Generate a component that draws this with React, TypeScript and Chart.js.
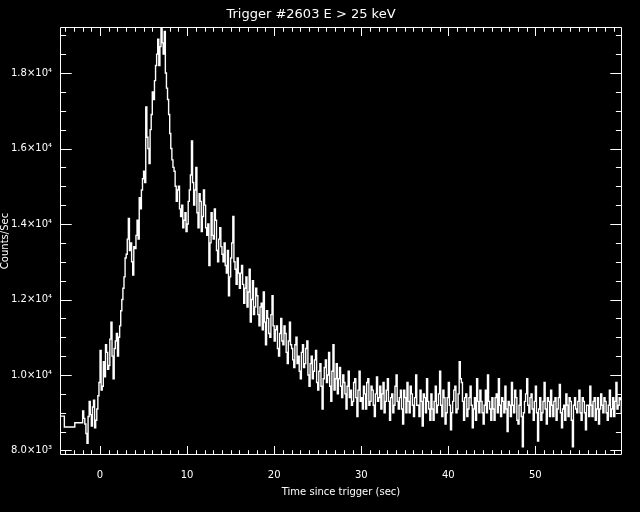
import React, { useEffect, useRef } from "react";
import { Chart, registerables } from "chart.js";

Chart.register(...registerables);

// ---- data ----
const TITLE = "Trigger #2603 E > 25 keV";
const X_LABEL = "Time since trigger (sec)";
const Y_LABEL = "Counts/Sec";

// pre-trigger (coarse) bins: start times and rates
const preTrigTimes = [-4.6, -4.1, -2.9];
const preTrigRates = [8910, 8620, 8735];

// fine bins, starting at T0 with width BIN (sec); one row = 2 s
const T0 = -2.0;
const BIN = 0.125;
const countsPerSec = [
  9050, 8850, 8700, 8450, 8190, 8900, 9300, 8950, 8650, 9150, 9330, 8600, 8800, 9100, 9450, 9800, // -2
  10650, 9600, 9700, 10350, 9950, 10800, 10600, 10150, 10250, 10950, 11400, 10500, 9900, 10700, 10900, 11100, // 0
  10500, 11000, 11300, 11700, 12000, 12300, 12600, 13100, 13200, 13600, 14150, 13300, 13500, 13000, 12650, 13400, // 2
  13350, 13700, 14100, 13600, 14700, 14400, 14900, 15200, 15400, 15100, 17100, 16300, 16000, 15600, 16500, 16900, // 4
  17500, 17300, 17800, 18200, 18500, 18900, 18200, 18700, 19300, 18800, 18500, 19100, 18000, 17600, 17300, 16900, // 6
  16400, 16000, 15700, 15500, 15400, 15000, 14600, 14900, 15000, 14400, 14200, 14500, 13900, 14100, 14300, 13800, // 8
  14000, 14600, 14900, 15300, 16200, 15100, 14500, 14900, 15500, 14300, 13900, 14800, 14600, 13800, 14200, 14900, // 10
  14500, 13900, 13700, 14000, 12900, 13500, 14300, 13700, 13600, 14400, 14100, 13300, 13000, 13600, 13900, 13400, // 12
  13200, 13000, 13500, 12900, 12700, 13300, 12100, 12600, 13100, 13500, 14200, 13000, 12800, 12400, 13100, 12700, // 14
  12300, 12700, 12900, 12400, 11900, 12300, 12600, 11800, 12200, 12800, 11400, 12000, 12500, 11600, 11800, 12300, // 16
  12100, 11600, 11300, 11800, 11900, 11200, 12200, 11400, 10800, 11700, 11500, 11100, 11000, 11600, 12100, 11300, // 18
  10900, 11200, 11300, 10700, 10500, 11100, 11500, 10900, 10800, 11300, 11100, 10600, 10300, 10900, 11400, 10800, // 20
  10700, 10400, 10200, 10800, 11000, 10300, 10500, 10100, 9900, 10600, 10800, 10200, 10300, 10700, 10900, 10000, // 22
  9700, 10300, 10500, 9900, 10100, 10400, 10650, 9800, 9600, 10100, 10300, 9700, 9100, 9900, 10200, 10400, // 24
  9800, 10000, 10600, 9700, 9300, 10100, 10800, 9600, 9900, 10300, 9500, 9900, 10200, 9700, 9400, 10000, // 26
  9800, 9500, 9100, 9700, 10100, 9400, 9600, 9200, 9300, 9800, 9900, 9400, 8900, 9600, 10100, 9300, // 28
  9400, 9100, 9700, 9500, 9100, 9800, 9900, 9200, 9300, 9700, 9600, 9200, 8900, 9500, 9950, 9300, // 30
  9400, 9700, 9100, 9500, 9800, 9000, 9300, 9600, 9900, 9300, 8800, 9400, 9500, 9000, 9200, 9700, // 32
  10000, 9300, 9100, 9400, 9600, 9100, 8700, 9600, 9400, 9000, 9800, 9300, 9000, 9700, 9500, 9200, // 34
  8900, 9400, 10000, 9200, 9200, 8900, 9600, 9300, 8650, 9500, 9400, 9000, 9900, 9300, 9100, 8800, // 36
  9500, 9100, 8800, 9300, 9700, 9000, 9200, 9500, 10100, 9200, 8900, 9600, 9400, 8700, 9000, 9400, // 38
  9800, 9200, 8550, 9000, 9300, 9600, 9700, 9000, 9100, 9500, 10350, 9900, 9800, 9300, 8800, 9400, // 40
  9500, 8900, 9100, 9400, 9700, 9200, 8600, 9100, 9400, 8800, 9900, 9300, 9000, 9600, 9300, 9000, // 42
  8700, 9200, 9600, 9000, 10000, 9300, 9100, 8800, 9400, 9100, 8800, 9400, 9500, 9000, 9900, 9200, // 44
  8900, 9400, 9300, 9000, 9700, 9100, 8500, 9300, 9200, 8900, 9800, 9200, 9000, 9600, 9400, 8800, // 46
  8700, 9200, 9600, 8900, 8100, 9000, 9300, 9500, 9900, 9200, 9000, 9400, 9500, 9100, 8800, 9300, // 48
  9700, 9000, 8250, 9100, 9400, 8800, 9000, 9300, 9800, 9100, 8700, 9400, 9300, 8900, 9600, 9200, // 50
  8900, 9300, 9400, 8800, 9100, 9400, 9750, 9000, 8600, 9100, 9200, 8800, 9500, 9200, 8900, 9400, // 52
  9300, 8800, 8100, 9200, 9400, 9100, 9000, 9300, 9600, 9000, 8800, 9400, 9300, 9000, 8550, 9200, // 54
  9200, 8900, 9700, 9200, 8900, 9300, 9400, 8800, 9100, 9400, 8700, 9100, 9500, 9200, 9000, 9400, // 56
  9300, 9000, 8800, 9200, 9600, 8900, 9100, 9400, 8900, 9300, 9800, 9100, 9200, 9400, 9350, 9000, // 58
];

// axes
const X_MIN = -4.6;
const X_MAX = 59.95;
const X_MAJOR = 10;
const X_MINOR = 1;
const Y_MIN = 7880;
const Y_MAX = 19220;
const Y_MAJOR = 2000;
const Y_MINOR = 500;
const yTickValues = [8000, 10000, 12000, 14000, 16000, 18000];
const yTickLabels = ["8.0×10³", "1.0×10⁴", "1.2×10⁴", "1.4×10⁴", "1.6×10⁴", "1.8×10⁴"];

const FONT = "'DejaVu Sans', sans-serif";

const idlFrame = {
  id: "idlFrame",
  afterDatasetsDraw(chart: any) {
    const { ctx, chartArea, scales } = chart;
    const xs = scales.x;
    const ys = scales.y;
    const L = Math.round(chartArea.left) + 0.5;
    const R = Math.round(chartArea.right) - 0.5;
    const T = Math.round(chartArea.top) + 0.5;
    const B = Math.round(chartArea.bottom) - 0.5;
    ctx.save();
    ctx.strokeStyle = "#ffffff";
    ctx.lineWidth = 1;
    ctx.beginPath();
    ctx.rect(L, T, R - L, B - T);
    const w = R - L;
    const h = B - T;
    const xMajLen = 0.02 * h;
    const yMajLen = 0.02 * w;
    for (let k = Math.ceil(xs.min / X_MINOR); k * X_MINOR <= xs.max; k++) {
      const v = k * X_MINOR;
      const major = k % (X_MAJOR / X_MINOR) === 0;
      const len = major ? xMajLen : xMajLen / 2;
      const px = Math.round(xs.getPixelForValue(v)) + 0.5;
      ctx.moveTo(px, B);
      ctx.lineTo(px, B - len);
      ctx.moveTo(px, T);
      ctx.lineTo(px, T + len);
    }
    for (let k = Math.ceil(ys.min / Y_MINOR); k * Y_MINOR <= ys.max; k++) {
      const v = k * Y_MINOR;
      const major = k % (Y_MAJOR / Y_MINOR) === 0;
      const len = major ? yMajLen : yMajLen / 2;
      const py = Math.round(ys.getPixelForValue(v)) + 0.5;
      ctx.moveTo(L, py);
      ctx.lineTo(L + len, py);
      ctx.moveTo(R, py);
      ctx.lineTo(R - len, py);
    }
    ctx.stroke();
    ctx.restore();
  },
};

export default function App() {
  const canvasRef = useRef<HTMLCanvasElement | null>(null);

  useEffect(() => {
    document.body.style.margin = "0";
    document.body.style.background = "#000";
    const canvas = canvasRef.current;
    if (!canvas) return;

    const pts: { x: number; y: number }[] = preTrigTimes.map((t, i) => ({ x: t, y: preTrigRates[i] }));
    countsPerSec.forEach((v, i) => pts.push({ x: T0 + i * BIN, y: v }));
    pts.push({ x: T0 + countsPerSec.length * BIN, y: countsPerSec[countsPerSec.length - 1] });

    const chart = new Chart(canvas, {
      type: "line",
      data: {
        datasets: [
          {
            data: pts,
            borderColor: "#ffffff",
            borderWidth: 1.4,
            pointRadius: 0,
            stepped: "before",
            fill: false,
            tension: 0,
          },
        ],
      },
      plugins: [idlFrame],
      options: {
        animation: false,
        responsive: false,
        maintainAspectRatio: false,
        devicePixelRatio: 1,
        layout: { padding: { left: 0, right: 18, top: 0, bottom: 0 } },
        plugins: {
          legend: { display: false },
          tooltip: { enabled: false },
          title: {
            display: true,
            text: TITLE,
            color: "#ffffff",
            font: { family: FONT, size: 13, weight: "normal", lineHeight: 1.2 },
            padding: { top: 7, bottom: 4.4 },
          },
        },
        scales: {
          x: {
            type: "linear",
            min: X_MIN,
            max: X_MAX,
            border: { display: false },
            grid: { display: false, drawTicks: false },
            ticks: {
              stepSize: X_MAJOR,
              includeBounds: false,
              autoSkip: false,
              maxRotation: 0,
              color: "#ffffff",
              padding: 14,
              font: { family: FONT, size: 10 },
              callback: (v: any) => String(v),
            },
            title: {
              display: true,
              text: X_LABEL,
              color: "#ffffff",
              font: { family: FONT, size: 10, lineHeight: 1.2 },
              padding: { top: 0, bottom: 14 },
            },
            afterFit: (s: any) => {
              s.height = 57;
            },
          },
          y: {
            type: "linear",
            min: Y_MIN,
            max: Y_MAX,
            border: { display: false },
            grid: { display: false, drawTicks: false },
            afterBuildTicks: (s: any) => {
              s.ticks = yTickValues.map((v) => ({ value: v }));
            },
            ticks: {
              autoSkip: false,
              color: "#ffffff",
              padding: 8,
              font: { family: FONT, size: 10 },
              callback: (v: any) => {
                const i = yTickValues.indexOf(Number(v));
                return i >= 0 ? yTickLabels[i] : "";
              },
            },
            title: {
              display: true,
              text: Y_LABEL,
              color: "#ffffff",
              font: { family: FONT, size: 10, lineHeight: 1.2 },
              padding: { top: -1, bottom: 0 },
            },
            afterFit: (s: any) => {
              s.width = 60;
            },
          },
        },
      },
    });
    return () => chart.destroy();
  }, []);

  return (
    <div style={{ position: "fixed", left: 0, top: 0, width: 640, height: 512, background: "#000" }}>
      <canvas ref={canvasRef} width={640} height={512} style={{ display: "block", width: 640, height: 512 }} />
    </div>
  );
}
